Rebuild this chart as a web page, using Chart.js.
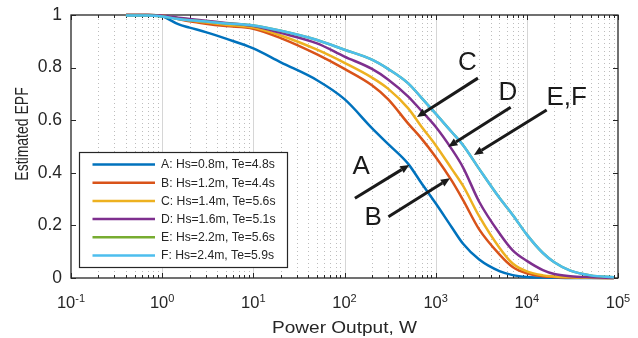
<!DOCTYPE html>
<html>
<head>
<meta charset="utf-8">
<script src="https://cdn.jsdelivr.net/npm/chart.js@4.4.0/dist/chart.umd.min.js"></script>
<style>
  html, body { margin: 0; padding: 0; background: #fff; }
  canvas { display: block; }
</style>
</head>
<body>
<canvas id="chart" width="638" height="338"></canvas>
<script>
// power output (W) where the curves were read
const power = [0.4, 0.7, 1, 1.5, 2, 3, 5, 10, 20, 50, 100, 200, 300, 500, 700,
  1000, 1500, 2000, 3000, 5000, 7000, 10000, 15000, 20000, 30000, 50000, 90000];

// estimated EPF per sea state
const epfA = [1, 1, 0.995, 0.965, 0.952, 0.935, 0.91, 0.873, 0.82, 0.752, 0.68, 0.57, 0.51, 0.434, 0.36,
  0.284, 0.193, 0.13, 0.07, 0.026, 0.011, 0.004, 0.002, 0.001, 0, 0, 0];
const epfB = [1, 1, 0.998, 0.985, 0.976, 0.967, 0.958, 0.948, 0.912, 0.85, 0.795, 0.733, 0.68, 0.587, 0.53,
  0.46, 0.37, 0.296, 0.185, 0.09, 0.042, 0.018, 0.007, 0.004, 0.002, 0.001, 0];
const epfC = [1, 1, 0.998, 0.988, 0.98, 0.972, 0.963, 0.952, 0.922, 0.868, 0.818, 0.762, 0.72, 0.645, 0.575,
  0.505, 0.415, 0.35, 0.235, 0.115, 0.055, 0.025, 0.01, 0.006, 0.003, 0.001, 0];
const epfD = [1, 1, 0.998, 0.99, 0.985, 0.978, 0.97, 0.958, 0.932, 0.892, 0.842, 0.795, 0.755, 0.69, 0.635,
  0.575, 0.49, 0.42, 0.29, 0.17, 0.105, 0.065, 0.03, 0.015, 0.007, 0.003, 0];
const epfE = [0.998, 0.998, 0.994, 0.985, 0.98, 0.975, 0.968, 0.96, 0.94, 0.905, 0.868, 0.83, 0.795, 0.74, 0.685,
  0.625, 0.555, 0.505, 0.415, 0.305, 0.24, 0.165, 0.095, 0.06, 0.028, 0.01, 0.003];
const epfF = [0.998, 0.998, 0.994, 0.985, 0.98, 0.975, 0.968, 0.96, 0.94, 0.905, 0.868, 0.83, 0.795, 0.74, 0.685,
  0.625, 0.555, 0.505, 0.415, 0.305, 0.24, 0.165, 0.095, 0.06, 0.028, 0.01, 0.003];

const seriesLabels = ['A: Hs=0.8m, Te=4.8s', 'B: Hs=1.2m, Te=4.4s', 'C: Hs=1.4m, Te=5.6s',
  'D: Hs=1.6m, Te=5.1s', 'E: Hs=2.2m, Te=5.6s', 'F: Hs=2.4m, Te=5.9s'];
const seriesColors = ['#0072BD', '#D95319', '#EDB120', '#7E2F8E', '#77AC30', '#4DBEEE'];
const seriesData = [epfA, epfB, epfC, epfD, epfE, epfF];

const yTicks = [0, 0.2, 0.4, 0.6, 0.8, 1];
const yTickLabels = ['0', '0.2', '0.4', '0.6', '0.8', '1'];
const xDecades = [-1, 0, 1, 2, 3, 4, 5];

// arrow notes, in data units: label position, arrow tail, arrow tip
const notes = [
  { text: 'A', at: [152, 0.423], from: [130, 0.303], to: [514, 0.43] },
  { text: 'B', at: [206, 0.228], from: [303, 0.233], to: [1435, 0.379] },
  { text: 'C', at: [2230, 0.818], from: [2910, 0.76], to: [624, 0.612] },
  { text: 'D', at: [6210, 0.705], from: [6650, 0.649], to: [1377, 0.499] },
  { text: 'E,F', at: [27350, 0.684], from: [16500, 0.639], to: [2630, 0.468] }
];

const FONT = '"Liberation Sans", Arial, Helvetica, sans-serif';
const INK = '#262626';

function drawText(ctx, str, x, y, size, opt) {
  opt = opt || {};
  ctx.save();
  ctx.translate(x, y);
  ctx.scale(opt.sx || 1, 1);
  if (opt.rotate) ctx.rotate(opt.rotate);
  ctx.font = size + 'px ' + FONT;
  ctx.fillStyle = opt.color || INK;
  ctx.textAlign = opt.align || 'left';
  ctx.textBaseline = opt.baseline || 'alphabetic';
  ctx.fillText(str, 0, 0);
  ctx.restore();
}

const axesPlugin = {
  id: 'axesPlugin',
  beforeDatasetsDraw(chart) {
    const { ctx, chartArea: a, scales: { x, y } } = chart;
    ctx.save();
    ctx.lineWidth = 1;
    // minor grid, dotted
    ctx.strokeStyle = '#bdbdbd';
    ctx.setLineDash([1, 3]);
    for (let k = -1; k < 5; k++) {
      for (let m = 2; m <= 9; m++) {
        const px = Math.round(x.getPixelForValue(m * Math.pow(10, k))) + 0.5;
        ctx.beginPath(); ctx.moveTo(px, a.top); ctx.lineTo(px, a.bottom); ctx.stroke();
      }
    }
    ctx.setLineDash([]);
    // major grid
    ctx.strokeStyle = '#d6d6d6';
    xDecades.slice(1, -1).forEach(k => {
      const px = Math.round(x.getPixelForValue(Math.pow(10, k))) + 0.5;
      ctx.beginPath(); ctx.moveTo(px, a.top); ctx.lineTo(px, a.bottom); ctx.stroke();
    });
    // box
    ctx.strokeStyle = INK;
    ctx.lineWidth = 1.3;
    ctx.strokeRect(a.left, a.top, a.right - a.left, a.bottom - a.top);
    // x ticks, top and bottom
    ctx.lineWidth = 1;
    for (let k = -1; k <= 5; k++) {
      for (let m = 1; m <= 9; m++) {
        const v = m * Math.pow(10, k);
        if (v > 1e5 * 1.001) break;
        const px = Math.round(x.getPixelForValue(v)) + 0.5;
        const len = m === 1 ? 5 : 3;
        ctx.beginPath();
        ctx.moveTo(px, a.bottom); ctx.lineTo(px, a.bottom - len);
        ctx.moveTo(px, a.top); ctx.lineTo(px, a.top + len);
        ctx.stroke();
      }
    }
    // y ticks, left and right
    yTicks.forEach(t => {
      const py = Math.round(y.getPixelForValue(t)) + 0.5;
      ctx.beginPath();
      ctx.moveTo(a.left, py); ctx.lineTo(a.left + 5, py);
      ctx.moveTo(a.right, py); ctx.lineTo(a.right - 5, py);
      ctx.stroke();
    });
    ctx.restore();
  },
  afterDraw(chart) {
    const { ctx, chartArea: a, scales: { x, y } } = chart;
    // y tick labels
    yTicks.forEach((t, i) => {
      drawText(ctx, yTickLabels[i], a.left - 9, y.getPixelForValue(t), 17.5, { align: 'right', baseline: 'middle' });
    });
    // x tick labels as 10^k
    xDecades.forEach(k => {
      const px = x.getPixelForValue(Math.pow(10, k));
      ctx.font = '16.5px ' + FONT;
      const wb = ctx.measureText('10').width;
      const sup = k < 0 ? '-' + (-k) : String(k);
      ctx.font = '11px ' + FONT;
      const ws = ctx.measureText(sup).width;
      const x0 = px - (wb + ws) / 2;
      drawText(ctx, '10', x0, a.bottom + 30, 16.5);
      drawText(ctx, sup, x0 + wb, a.bottom + 23.5, 11);
    });
    // axis titles
    drawText(ctx, 'Power Output, W', (a.left + a.right) / 2, 333, 16, { align: 'center', sx: 1.19 });
    drawText(ctx, 'Estimated EPF', 23, 134, 14, { align: 'center', baseline: 'middle', sx: 1.3, rotate: -Math.PI / 2 });

    // legend box
    ctx.save();
    ctx.fillStyle = '#fff';
    ctx.fillRect(79.5, 152.5, 208, 115);
    ctx.strokeStyle = INK;
    ctx.lineWidth = 1.2;
    ctx.strokeRect(79.5, 152.5, 208, 115);
    seriesLabels.forEach((lab, i) => {
      const ry = 164.5 + i * 18.2;
      ctx.strokeStyle = seriesColors[i];
      ctx.lineWidth = 2.5;
      ctx.beginPath(); ctx.moveTo(92.5, ry); ctx.lineTo(155, ry); ctx.stroke();
      drawText(ctx, lab, 161, ry + 0.5, 12.2, { baseline: 'middle' });
    });
    ctx.restore();

    // arrows and letters
    ctx.save();
    notes.forEach(n => {
      const tx = x.getPixelForValue(n.from[0]), ty = y.getPixelForValue(n.from[1]);
      const hx = x.getPixelForValue(n.to[0]), hy = y.getPixelForValue(n.to[1]);
      const ang = Math.atan2(hy - ty, hx - tx);
      const headLen = 9, headW = 4;
      const bx = hx - headLen * Math.cos(ang), by = hy - headLen * Math.sin(ang);
      ctx.strokeStyle = '#1a1a1a';
      ctx.fillStyle = '#1a1a1a';
      ctx.lineWidth = 3;
      ctx.beginPath(); ctx.moveTo(tx, ty); ctx.lineTo(bx, by); ctx.stroke();
      ctx.beginPath();
      ctx.moveTo(hx, hy);
      ctx.lineTo(bx + headW * Math.sin(ang), by - headW * Math.cos(ang));
      ctx.lineTo(bx - headW * Math.sin(ang), by + headW * Math.cos(ang));
      ctx.closePath(); ctx.fill();
      drawText(ctx, n.text, x.getPixelForValue(n.at[0]), y.getPixelForValue(n.at[1]), 26,
        { align: 'center', baseline: 'middle', color: '#1a1a1a' });
    });
    ctx.restore();
  }
};

const datasets = seriesData.map((s, i) => ({
  label: seriesLabels[i],
  data: power.map((p, j) => ({ x: p, y: s[j] })),
  borderColor: seriesColors[i],
  borderWidth: 2.5,
  pointRadius: 0,
  cubicInterpolationMode: 'monotone',
  clip: false,
  order: seriesData.length - i
}));

new Chart(document.getElementById('chart'), {
  type: 'line',
  data: { datasets: datasets },
  options: {
    responsive: false,
    animation: false,
    devicePixelRatio: 1,
    layout: { padding: { left: 71, top: 15, right: 20, bottom: 60 } },
    plugins: { legend: { display: false }, tooltip: { enabled: false } },
    scales: {
      x: { type: 'logarithmic', min: 0.1, max: 1e5, display: false },
      y: { min: 0, max: 1, display: false }
    }
  },
  plugins: [axesPlugin]
});
</script>
</body>
</html>
